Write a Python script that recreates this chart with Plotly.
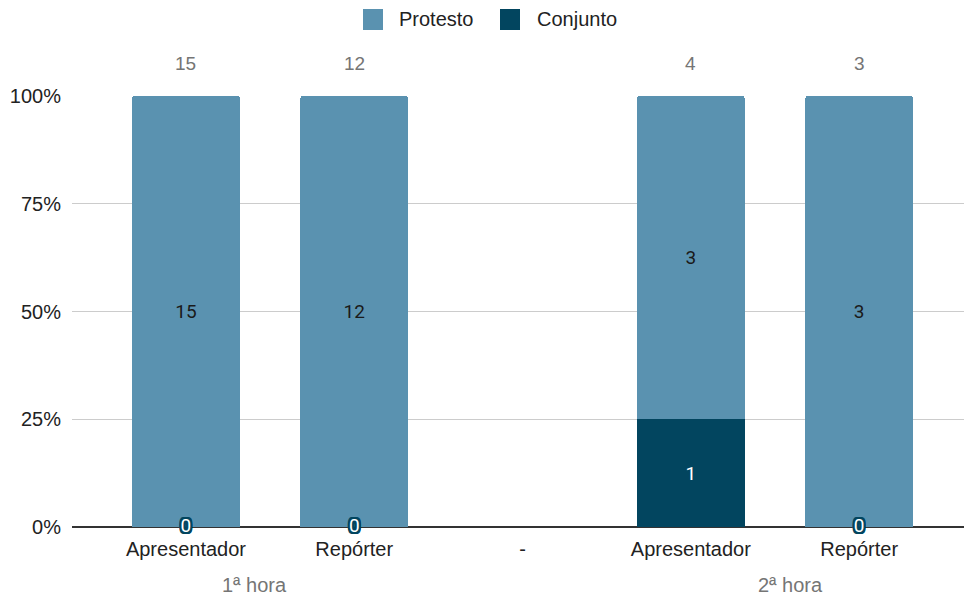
import plotly.graph_objects as go

# Categories (hour groups and roles)
groups = ["1ª hora", "1ª hora", "", "2ª hora", "2ª hora"]
roles = ["Apresentador", "Repórter", "-", "Apresentador", "Repórter"]

# Series values (counts)
protesto = [15, 12, None, 3, 3]
conjunto = [0, 0, None, 1, 0]

y_ticks = [0, 0.25, 0.5, 0.75, 1.0]
y_tick_labels = ["0%", "25%", "50%", "75%", "100%"]

COLOR_PROTESTO = "#5a92b0"
COLOR_CONJUNTO = "#02455f"
SANS = "Arial, 'Liberation Sans', sans-serif"
ROBOTO = "Roboto, Arial, sans-serif"

W, H = 965, 596
M_L, M_R, M_T, M_B = 72, 1, 96, 69
PW, PH = W - M_L - M_R, H - M_T - M_B


def px_to_paper(px, py):
    return (px - M_L) / PW, (H - M_B - py) / PH


x = list(range(len(roles)))

fig = go.Figure()

fig.add_trace(go.Bar(
    x=x, y=conjunto, name="Conjunto", showlegend=False,
    marker=dict(color=COLOR_CONJUNTO, line=dict(width=0)),
    text=[str(v) if v else "" for v in conjunto],
    textposition="inside", insidetextanchor="middle",
    textfont=dict(color="white", size=19, family=ROBOTO),
    width=0.641,
))
fig.add_trace(go.Bar(
    x=x, y=protesto, name="Protesto", showlegend=False,
    marker=dict(color=COLOR_PROTESTO, line=dict(width=0)),
    text=[str(v) if v else "" for v in protesto],
    textposition="inside", insidetextanchor="middle",
    textfont=dict(color="#1a1a1a", size=19, family=ROBOTO),
    width=0.641,
))

# Zero-valued "Conjunto" segments get a haloed label sitting on the baseline
zero_x = [xi for xi, v in zip(x, conjunto) if v == 0]
zero_txt = [str(v) for v in conjunto if v == 0]
halo = ", ".join(f"{dx}px {dy}px 0 {COLOR_CONJUNTO}"
                 for dx in (-2, -1, 0, 1, 2) for dy in (-2, -1, 0, 1, 2))
fig.add_trace(go.Scatter(
    x=zero_x, y=[0] * len(zero_x), mode="text", text=zero_txt,
    textposition="middle center",
    textfont=dict(color="white", size=19, family=ROBOTO, shadow=halo),
    showlegend=False, hoverinfo="skip", cliponaxis=False,
))

annotations = []
shapes = []

# Legend: rounded swatches followed by series names
for name, color, sx, tx in (("Protesto", COLOR_PROTESTO, 363, 397),
                            ("Conjunto", COLOR_CONJUNTO, 500, 535)):
    x0, y0 = px_to_paper(sx, 30)
    x1, y1 = px_to_paper(sx + 20, 9)
    shapes.append(dict(type="rect", xref="paper", yref="paper",
                       x0=x0, y0=y0, x1=x1, y1=y1,
                       fillcolor=color, line=dict(width=0), layer="above"))
    lx, ly = px_to_paper(tx, 19.5)
    annotations.append(dict(x=lx, y=ly, xref="paper", yref="paper", text=name,
                            showarrow=False, xanchor="left", yanchor="middle",
                            font=dict(color="#222222", size=20, family=SANS)))

# Totals above each column
for xi, p, c in zip(x, protesto, conjunto):
    if p is None and c is None:
        continue
    total = (p or 0) + (c or 0)
    annotations.append(dict(
        x=xi, y=1, xref="x", yref="y", text=str(total), showarrow=False,
        yanchor="middle", yshift=33,
        font=dict(color="#757575", size=19, family=SANS),
    ))

# Group labels beneath the role labels
for label, gx in (("1ª hora", 0.41), ("2ª hora", 3.59)):
    annotations.append(dict(
        x=gx, y=0, xref="x", yref="paper", text=label, showarrow=False,
        yanchor="middle", yshift=-58,
        font=dict(color="#757575", size=20, family=SANS),
    ))

fig.update_layout(
    width=W, height=H,
    margin=dict(l=M_L, r=M_R, t=M_T, b=M_B),
    barmode="stack", barnorm="fraction", barcornerradius=3,
    plot_bgcolor="white", paper_bgcolor="white",
    font=dict(family=SANS, size=20, color="#222222"),
    annotations=annotations,
    shapes=shapes,
    showlegend=False,
)
fig.update_xaxes(
    range=[-0.677, 4.623], tickmode="array", tickvals=x, ticktext=roles,
    showgrid=False, zeroline=False, showline=False, ticks="",
    ticklabelstandoff=8,
    tickfont=dict(size=20, color="#222222", family=SANS),
)
fig.update_yaxes(
    range=[0, 1], tickmode="array", tickvals=y_ticks, ticktext=y_tick_labels,
    showgrid=True, gridcolor="#cccccc", gridwidth=1,
    zeroline=True, zerolinecolor="#333333", zerolinewidth=1.5,
    showline=False, ticks="", ticklabelstandoff=10,
    tickfont=dict(size=20, color="#222222", family=SANS),
)

fig.write_html("out.html")
